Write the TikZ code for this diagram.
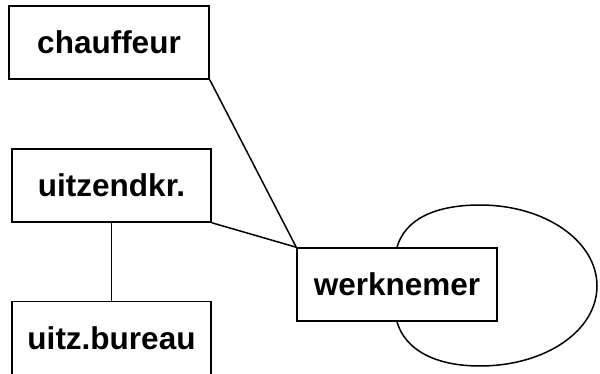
\documentclass[tikz,border=0pt]{standalone}
\usepackage{fontspec}
\setmainfont{Liberation Sans}
\usetikzlibrary{positioning}

\begin{document}
\begin{tikzpicture}[x=1pt,y=-1pt,line width=1.5pt,
	box/.style={draw,rectangle,minimum width=200pt,minimum height=73pt,inner sep=0pt,
		font=\fontsize{31.5}{35}\selectfont\bfseries}]
	\useasboundingbox (0,0) rectangle (600,374);
	\node (chauffeur) at (109,42.5) [box] {chauffeur};
	\node (uitzendkr) at (111.5,185.5) [box,minimum width=199pt] {uitzendkr.};
	\node (bureau) at (111.5,338) [box,minimum width=199pt] {uitz.bureau};
	\node (werknemer) at (397,284.5) [box] {werknemer};
	\draw (chauffeur.south east)--(werknemer.north west);
	\draw (uitzendkr.south east)--(werknemer.north west);
	\draw (uitzendkr.south)--(bureau.north);
	\draw (werknemer.north) .. controls +(8,-28) and +(-45,0) .. (480,205)
		.. controls +(65,0) and +(0,-45) .. (597,286)
		.. controls +(0,45) and +(65,0) .. (480,366)
		.. controls +(-45,0) and +(8,28) .. (werknemer.south);
\end{tikzpicture}
\end{document}
